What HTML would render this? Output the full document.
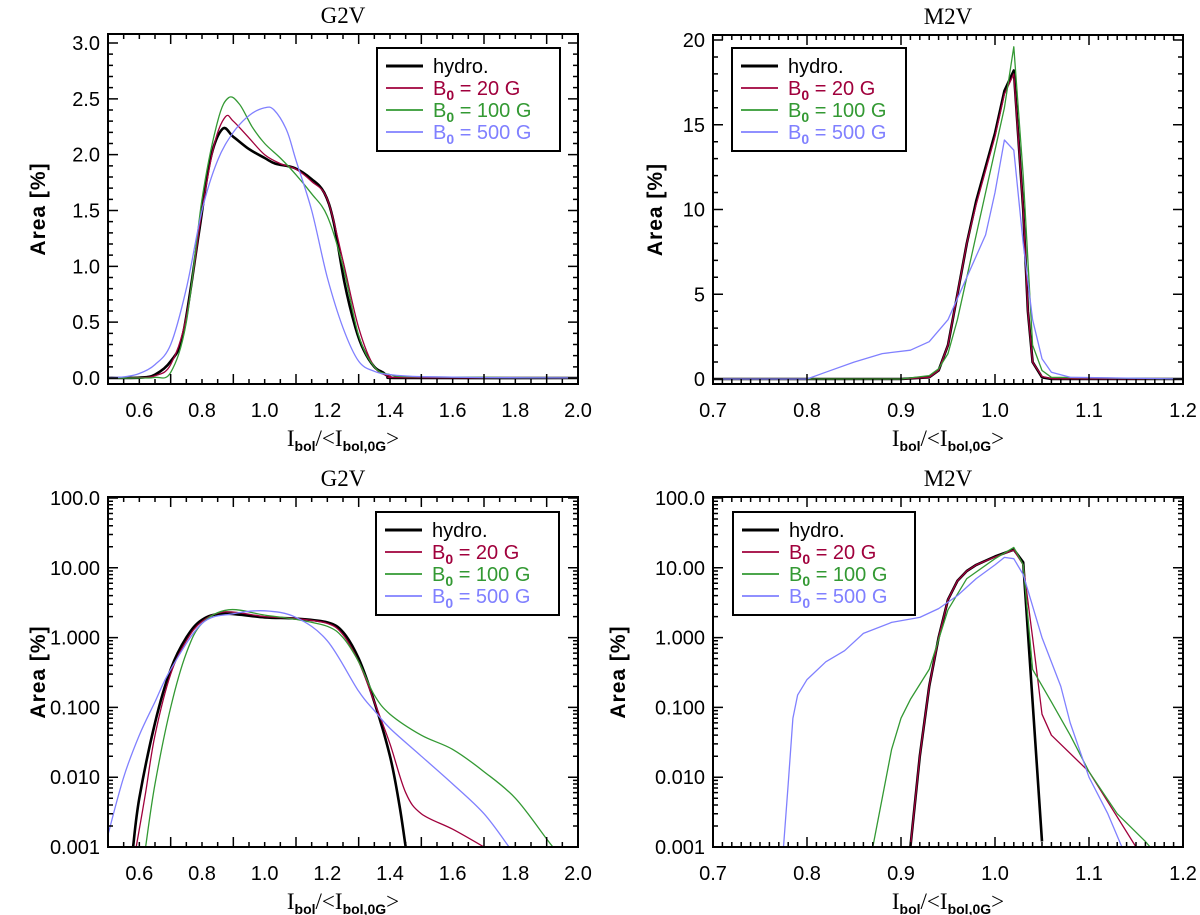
<!DOCTYPE html>
<html><head><meta charset="utf-8">
<style>
body{margin:0;background:#fff;}
svg{display:block;font-family:"Liberation Sans",sans-serif;}
.tl{font-size:20px;fill:#000;}
.ttl{font-family:"Liberation Serif",serif;font-size:23px;}
.leg{font-family:"Liberation Sans",sans-serif;font-size:20px;}
</style></head><body>
<svg id="c" width="1200" height="915" viewBox="0 0 1200 915" xmlns="http://www.w3.org/2000/svg"></svg>
<script>
// ---------- data ----------
// Panel A (top-left, G2V linear)
const aHydroX=[0.5,0.6,0.65,0.7,0.74,0.79,0.826,0.865,0.9,0.95,1.0,1.034,1.096,1.15,1.19,1.22,1.255,1.29,1.316,1.35,1.377,1.4,1.45,2.0];
const aHydroY=[0,0.003,0.03,0.15,0.4,1.3,1.95,2.23,2.16,2.05,1.97,1.92,1.88,1.78,1.66,1.4,0.85,0.45,0.25,0.1,0.05,0.01,0,0];
const aRedX=[0.5,0.6,0.65,0.7,0.75,0.8,0.84,0.875,0.9,0.95,1.0,1.05,1.1,1.15,1.2,1.25,1.3,1.35,1.4,1.45,2.0];
const aRedY=[0,0.003,0.02,0.12,0.55,1.5,2.1,2.34,2.3,2.15,2.0,1.92,1.87,1.76,1.6,1.05,0.45,0.1,0.015,0.004,0];
const aGreenX=[0.5,0.6,0.65,0.7,0.75,0.8,0.85,0.885,0.92,0.96,1.0,1.05,1.1,1.15,1.2,1.25,1.3,1.35,1.4,1.5,2.0];
const aGreenY=[0,0,0.005,0.05,0.5,1.6,2.3,2.51,2.45,2.25,2.1,1.97,1.82,1.65,1.45,1.0,0.38,0.1,0.03,0.01,0];
const aBlueX=[0.5,0.55,0.6,0.65,0.7,0.75,0.8,0.85,0.9,0.95,1.0,1.03,1.07,1.1,1.15,1.2,1.25,1.3,1.35,1.4,1.5,1.7,2.0];
const aBlueY=[0.003,0.01,0.04,0.12,0.3,0.8,1.5,1.95,2.2,2.35,2.42,2.4,2.22,1.95,1.5,0.9,0.45,0.15,0.06,0.03,0.012,0.004,0.001];
// Panel B (top-right, M2V linear)
const bHydroX=[0.7,0.9,0.93,0.94,0.95,0.96,0.97,0.98,0.99,1.0,1.01,1.02,1.03,1.035,1.04,1.05,1.06,1.2];
const bHydroY=[0,0,0.1,0.5,2,5,8,10.5,12.5,14.5,17,18.2,10,4,1,0.1,0,0];
const bRedX=[0.7,0.9,0.93,0.94,0.95,0.96,0.97,0.98,0.99,1.0,1.01,1.02,1.03,1.035,1.04,1.05,1.06,1.2];
const bRedY=[0,0,0.1,0.5,2,5,8,10.3,12.3,14.3,16.8,18.0,10,4,1,0.15,0.02,0];
const bGreenX=[0.7,0.9,0.93,0.94,0.95,0.96,0.97,0.98,0.99,1.0,1.01,1.02,1.03,1.04,1.05,1.06,1.2];
const bGreenY=[0,0,0.2,0.6,1.5,3.5,6,8.5,11,13.5,16,19.6,12,2,0.5,0.1,0];
const bBlueX=[0.7,0.8,0.82,0.85,0.88,0.91,0.93,0.95,0.97,0.99,1.0,1.01,1.02,1.03,1.04,1.05,1.06,1.08,1.2];
const bBlueY=[0,0,0.4,1.0,1.5,1.7,2.2,3.5,6,8.5,11,14.1,13.5,8,3.5,1.2,0.4,0.1,0];
// Panel C (bottom-left, G2V log)
const cHydroX=[0.58,0.6,0.65,0.7,0.75,0.8,0.87,1.0,1.1,1.2,1.25,1.3,1.35,1.4,1.43,1.45];
const cHydroY=[0.001,0.005,0.06,0.35,1.0,1.8,2.2,1.95,1.87,1.65,1.2,0.5,0.12,0.02,0.004,0.001];
const cRedX=[0.59,0.62,0.65,0.7,0.75,0.8,0.875,1.0,1.1,1.2,1.25,1.3,1.35,1.4,1.45,1.5,1.6,1.7];
const cRedY=[0.001,0.006,0.04,0.3,0.9,1.7,2.34,2.0,1.87,1.6,1.1,0.45,0.12,0.03,0.006,0.003,0.0018,0.001];
const cGreenX=[0.62,0.65,0.7,0.75,0.8,0.885,1.0,1.1,1.2,1.25,1.3,1.35,1.4,1.5,1.6,1.7,1.8,1.9,1.92];
const cGreenY=[0.001,0.008,0.1,0.6,1.6,2.5,2.1,1.82,1.45,1.0,0.45,0.15,0.08,0.04,0.025,0.012,0.005,0.0013,0.001];
const cBlueX=[0.5,0.55,0.6,0.65,0.7,0.8,0.9,1.0,1.1,1.2,1.3,1.35,1.4,1.5,1.6,1.7,1.78];
const cBlueY=[0.0015,0.01,0.04,0.12,0.35,1.6,2.2,2.42,1.95,0.9,0.17,0.09,0.05,0.02,0.008,0.003,0.001];
// Panel D (bottom-right, M2V log)
const dHydroX=[0.91,0.92,0.93,0.94,0.95,0.96,0.97,0.98,1.0,1.02,1.03,1.04,1.05];
const dHydroY=[0.001,0.02,0.2,1.0,3.5,6.5,9,11,14.5,18.2,12,0.12,0.0012];
const dRedX=[0.91,0.92,0.93,0.94,0.95,0.96,0.97,0.98,1.0,1.02,1.03,1.04,1.05,1.06,1.1,1.15];
const dRedY=[0.001,0.02,0.2,1.0,3.5,6.5,9,11,14.3,18.0,11,1.0,0.08,0.04,0.012,0.001];
const dGreenX=[0.87,0.88,0.89,0.9,0.91,0.93,0.95,0.97,1.0,1.02,1.03,1.04,1.06,1.08,1.1,1.13,1.16,1.165];
const dGreenY=[0.001,0.005,0.025,0.07,0.13,0.35,2.5,7,13.5,19.6,11,0.35,0.12,0.04,0.012,0.003,0.0012,0.001];
const dBlueX=[0.775,0.78,0.785,0.79,0.8,0.82,0.84,0.86,0.89,0.92,0.94,0.96,0.98,1.0,1.01,1.02,1.03,1.05,1.07,1.08,1.1,1.12,1.135];
const dBlueY=[0.001,0.008,0.07,0.15,0.25,0.45,0.65,1.15,1.65,1.95,2.6,4.0,7,11,14.1,13.5,8,1.0,0.2,0.06,0.01,0.003,0.001];
// tick labels
const aXTicks=[0.6,0.8,1.0,1.2,1.4,1.6,1.8,2.0];
const aYTicks=[0,0.5,1.0,1.5,2.0,2.5,3.0];
const bXTicks=[0.7,0.8,0.9,1.0,1.1,1.2];
const bYTicks=[0,5,10,15,20];
const logYTicks=[0.001,0.01,0.1,1,10,100];
const logYLabels=["0.001","0.010","0.100","1.000","10.00","100.0"];
const legendLabels=["hydro.","20 G","100 G","500 G"];

const COLORS=["#000","#a0003c","#339933","#8080ff"];
const WIDTHS=[2.6,1.3,1.3,1.3];
const NS="http://www.w3.org/2000/svg";
const svg=document.getElementById('c');
function mk(tag,attrs,parent){const e=document.createElementNS(NS,tag);for(const k in attrs)e.setAttribute(k,attrs[k]);(parent||svg).appendChild(e);return e;}

function smoothPath(pts){
  if(pts.length<3){return pts.map((p,i)=>(i?'L':'M')+p[0]+','+p[1]).join('');}
  let d='M'+pts[0][0].toFixed(1)+','+pts[0][1].toFixed(1);
  for(let i=0;i<pts.length-1;i++){
    const p0=pts[Math.max(0,i-1)],p1=pts[i],p2=pts[i+1],p3=pts[Math.min(pts.length-1,i+2)];
    const c1x=p1[0]+(p2[0]-p0[0])/6,c1y=p1[1]+(p2[1]-p0[1])/6;
    const c2x=p2[0]-(p3[0]-p1[0])/6,c2y=p2[1]-(p3[1]-p1[1])/6;
    d+=`C${c1x.toFixed(1)},${c1y.toFixed(1)} ${c2x.toFixed(1)},${c2y.toFixed(1)} ${p2[0].toFixed(1)},${p2[1].toFixed(1)}`;
  }
  return d;
}

function panel(o){
  const g=mk('g',{});
  
  
  const L=o.x0,R=o.x1,T=o.y0,B=o.y1;
  const sx=v=>L+(v-o.xmin)/(o.xmax-o.xmin)*(R-L);
  const sy=o.log?(v=>o.py0-(Math.log10(v)-Math.log10(o.vmin))/(Math.log10(o.vmax)-Math.log10(o.vmin))*(o.py0-o.py1))
                :(v=>o.py0-(v-o.vmin)/(o.vmax-o.vmin)*(o.py0-o.py1));
  const cid='clip'+o.name;
  const cp=mk('clipPath',{id:cid},g);mk('rect',{x:L,y:T,width:R-L,height:B-T},cp);
  const sg=mk('g',{'clip-path':`url(#${cid})`},g);
  o.series.forEach((s,i)=>{
    const pts=s[0].map((xv,j)=>{let yv=s[1][j];if(o.log&&yv<=0)yv=1e-6;return [sx(xv),sy(yv)];});
    const d=o.smooth?smoothPath(pts):pts.map((p,j)=>(j?'L':'M')+p[0].toFixed(1)+','+p[1].toFixed(1)).join('');
    const p=mk('path',{d:d,fill:'none',stroke:COLORS[i],'stroke-width':WIDTHS[i],'stroke-linejoin':'round'},sg);
    
    
  });
  const fr=mk('rect',{x:L,y:T,width:R-L,height:B-T,fill:'none',stroke:'#000','stroke-width':2},g);
  
  
  let tk='';
  for(let v=o.xmin;v<=o.xmax+1e-9;v+=o.xminor){
    const isMaj=Math.abs(Math.round((v-o.xmin)/o.xmajor)*o.xmajor-(v-o.xmin))<1e-6;
    const len=isMaj?10:5;const X=sx(v);
    tk+=`M${X},${B}v${-len}M${X},${T}v${len}`;
  }
  if(o.log){
    for(let e=-3;e<=2;e++){for(let m=1;m<=9;m++){const v=m*Math.pow(10,e);if(v>o.vmax*1.001)break;const Y=sy(v);if(Y<T-0.5)continue;const len=m==1?10:5;tk+=`M${L},${Y}h${len}M${R},${Y}h${-len}`;}}
  }else{
    for(let v=o.ytickStart;v<=o.vmax+1e-9;v+=o.yminor){const Y=sy(v);if(Y>B+0.5||Y<T-0.5)continue;
      const isMaj=Math.abs(Math.round(v/o.ymajor)*o.ymajor-v)<1e-6;const len=isMaj?10:5;tk+=`M${L},${Y}h${len}M${R},${Y}h${-len}`;}
  }
  mk('path',{d:tk,stroke:'#000','stroke-width':1.5,fill:'none'},g);
  o.xTicks.forEach(v=>{const t=mk('text',{x:sx(v),y:B+33,'text-anchor':'middle',class:'tl'},g);t.textContent=v.toFixed(1);
    });
  o.yTicks.forEach((v,i)=>{const t=mk('text',{x:L-8,y:sy(v)+7,'text-anchor':'end',class:'tl'},g);t.textContent=o.yLabels?o.yLabels[i]:(o.yFix!=null?v.toFixed(o.yFix):String(v));
    });
  const tt=mk('text',{x:(L+R)/2,y:T-11,'text-anchor':'middle',class:'ttl'},g);tt.textContent=o.title;
  
  const xt=mk('text',{x:(L+R)/2,y:B+62,'text-anchor':'middle',class:'ttl'},g);
  xt.innerHTML='I<tspan font-size="14" font-weight="bold" font-family="Liberation Sans" dy="5">bol</tspan><tspan dy="-5">/&lt;I</tspan><tspan font-size="14" font-weight="bold" font-family="Liberation Sans" dy="5">bol,0G</tspan><tspan dy="-5">&gt;</tspan>';
  
  const yx=o.ytx,yy=(T+B)/2;
  const yt=mk('text',{x:yx,y:yy,'text-anchor':'middle',transform:`rotate(-90 ${yx} ${yy})`,'font-size':21,'font-weight':'bold','letter-spacing':'1'},g);yt.textContent='Area  [%]';
  yt.setAttribute('xml:space','preserve');
  
  const lg=mk('g',{},g);
  
  
  mk('rect',{x:o.lx,y:o.ly,width:o.lw,height:103,fill:'#fff',stroke:'#000','stroke-width':2},lg);
  legendLabels.forEach((lab,i)=>{
    const Y=o.ly+18+i*22;
    mk('line',{x1:o.lx+9,x2:o.lx+46,y1:Y,y2:Y,stroke:COLORS[i],'stroke-width':WIDTHS[i]+0.4},lg);
    const t=mk('text',{x:o.lx+56,y:Y+7,fill:COLORS[i],class:'leg'},lg);
    if(i==0)t.textContent=lab;else t.innerHTML='B<tspan font-size="14" font-weight="bold" dy="5">0</tspan><tspan dy="-5"> = '+lab+'</tspan>';
    
  });
}
panel({name:'panel-g2v-linear',smooth:true,x0:108,x1:578,y0:34,y1:384,xmin:0.5,xmax:2.0,xmajor:0.2,xminor:0.05,py0:378,py1:43,vmin:0,vmax:3.0,
  ymajor:0.5,yminor:0.1,ytickStart:0,xTicks:aXTicks,yTicks:aYTicks,yFix:1,title:'G2V',ytx:45,lx:377,ly:48,lw:183,
  series:[[aHydroX,aHydroY],[aRedX,aRedY],[aGreenX,aGreenY],[aBlueX,aBlueY]]});
panel({name:'panel-m2v-linear',x0:713,x1:1183,y0:35,y1:384,xmin:0.7,xmax:1.2,xmajor:0.1,xminor:0.01,py0:379,py1:40,vmin:0,vmax:20,
  ymajor:5,yminor:1,ytickStart:0,xTicks:bXTicks,yTicks:bYTicks,title:'M2V',ytx:662,lx:732,ly:48,lw:174,
  series:[[bHydroX,bHydroY],[bRedX,bRedY],[bGreenX,bGreenY],[bBlueX,bBlueY]]});
panel({name:'panel-g2v-log',smooth:true,log:true,x0:108,x1:578,y0:497,y1:847,xmin:0.5,xmax:2.0,xmajor:0.2,xminor:0.05,py0:847,py1:498,vmin:0.001,vmax:100,
  xTicks:aXTicks,yTicks:logYTicks,yLabels:logYLabels,title:'G2V',ytx:45,lx:376,ly:512,lw:183,
  series:[[cHydroX,cHydroY],[cRedX,cRedY],[cGreenX,cGreenY],[cBlueX,cBlueY]]});
panel({name:'panel-m2v-log',log:true,x0:713,x1:1183,y0:497,y1:847,xmin:0.7,xmax:1.2,xmajor:0.1,xminor:0.01,py0:847,py1:498,vmin:0.001,vmax:100,
  xTicks:bXTicks,yTicks:logYTicks,yLabels:logYLabels,title:'M2V',ytx:625,lx:733,ly:512,lw:182,
  series:[[dHydroX,dHydroY],[dRedX,dRedY],[dGreenX,dGreenY],[dBlueX,dBlueY]]});
</script>
</body></html>
